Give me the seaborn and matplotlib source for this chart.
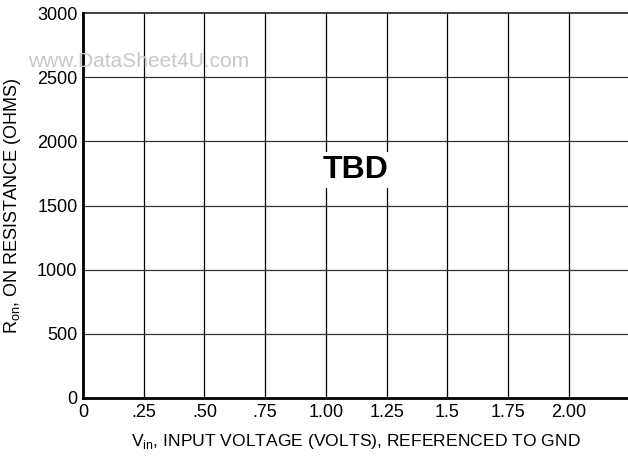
import matplotlib
matplotlib.use("Agg")
import matplotlib.pyplot as plt
import seaborn as sns

# axis values
x_ticks = [0, 0.25, 0.50, 0.75, 1.00, 1.25, 1.50, 1.75, 2.00]
x_tick_labels = ["0", ".25", ".50", ".75", "1.00", "1.25", "1.5", "1.75", "2.00"]
y_ticks = [0, 500, 1000, 1500, 2000, 2500, 3000]
y_tick_labels = ["0", "500", "1000", "1500", "2000", "2500", "3000"]
x_max = 2.243
y_max = 3000

sns.set_style("white")
plt.rcParams["font.family"] = ["Liberation Sans", "DejaVu Sans"]
plt.rcParams["text.color"] = "black"
plt.rcParams["axes.labelcolor"] = "black"

fig = plt.figure(figsize=(6.28, 4.63), dpi=100)
ax = fig.add_axes([83 / 628, 1 - 398 / 463, 1 - 83 / 628, (398 - 13) / 463])

ax.set_xlim(0, x_max)
ax.set_ylim(0, y_max)
ax.set_xticks(x_ticks)
ax.set_xticklabels(x_tick_labels)
ax.set_yticks(y_ticks)
ax.set_yticklabels(y_tick_labels)
ax.tick_params(axis="both", length=0, labelsize=13, colors="black", pad=4)

# grid lines
for xv in x_ticks[1:]:
    ax.axvline(xv, color="black", lw=0.9, zorder=1)
for yv in y_ticks[1:]:
    ax.axhline(yv, color="#333333", lw=1.3 if yv == y_max else 0.9, zorder=1, clip_on=False)

for side in ["top", "right"]:
    ax.spines[side].set_visible(False)
for side in ["left", "bottom"]:
    ax.spines[side].set_linewidth(2.0)
    ax.spines[side].set_color("black")
    ax.spines[side].set_zorder(3)

ax.text(1.12, 1777, "TBD", fontsize=23, fontweight="bold", color="black",
        ha="center", va="center", zorder=4,
        bbox=dict(facecolor="white", edgecolor="none", pad=2))

fig.text(139 / 628, 1 - 67 / 463, "www.DataSheet4U.com", fontsize=15, color="#c8c8c8",
         ha="center", va="baseline")

ax.set_xlabel("V$_{\\mathregular{in}}$, INPUT VOLTAGE (VOLTS), REFERENCED TO GND",
              fontsize=12.6, labelpad=8)
ax.set_ylabel("R$_{\\mathregular{on}}$, ON RESISTANCE (OHMS)", fontsize=13, labelpad=10)

fig.savefig("out.png", dpi=100)
